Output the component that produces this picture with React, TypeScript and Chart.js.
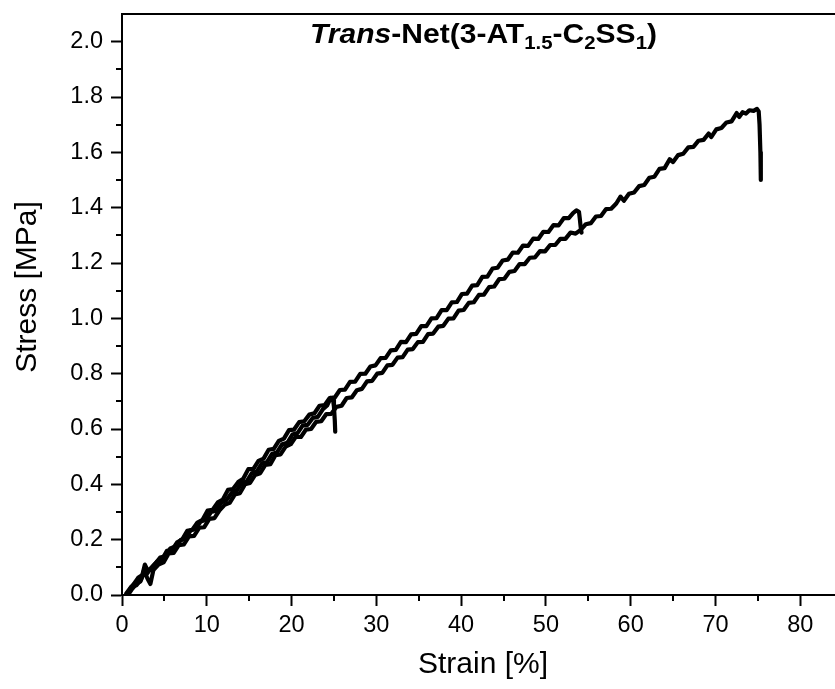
import React, { useEffect, useRef } from 'react';
import { Chart, registerables } from 'chart.js';

Chart.register(...registerables);

// ---- data ----
// first loading (to ~25 % strain)
const cycle1Strain = [0.6, 1.0, 1.4, 1.9, 2.4, 2.7, 3.0, 3.4, 3.9, 4.5, 5.1, 5.7, 6.3, 6.9, 7.5, 8.1, 8.7, 9.3, 9.9, 10.5, 11.1, 11.7, 12.3, 12.9, 13.5, 14.1, 14.7, 15.3, 15.9, 16.5, 17.1, 17.7, 18.3, 18.9, 19.5, 20.1, 20.7, 21.3, 21.9, 22.5, 23.1, 23.7, 24.2, 24.6, 24.9, 25.0, 25.1, 25.15];
const cycle1Stress = [0.0, 0.025, 0.04, 0.062, 0.072, 0.11, 0.09, 0.095, 0.112, 0.135, 0.14, 0.168, 0.175, 0.198, 0.207, 0.233, 0.24, 0.266, 0.272, 0.3, 0.305, 0.335, 0.342, 0.368, 0.376, 0.404, 0.41, 0.44, 0.446, 0.476, 0.48, 0.51, 0.516, 0.545, 0.55, 0.58, 0.585, 0.612, 0.615, 0.64, 0.644, 0.672, 0.685, 0.712, 0.705, 0.68, 0.63, 0.59];

// second loading (to ~54 % strain)
const cycle2Strain = [0.5, 1.1, 1.7, 2.3, 2.6, 2.9, 3.5, 4.1, 4.7, 5.3, 5.9, 6.5, 7.1, 7.7, 8.3, 8.9, 9.5, 10.1, 10.7, 11.3, 11.9, 12.5, 13.1, 13.7, 14.3, 14.9, 15.5, 16.1, 16.7, 17.3, 17.9, 18.5, 19.1, 19.7, 20.3, 20.9, 21.5, 22.1, 22.7, 23.3, 23.9, 24.5, 25.1, 25.7, 26.3, 26.9, 27.5, 28.1, 28.7, 29.3, 29.9, 30.5, 31.1, 31.7, 32.3, 32.9, 33.5, 34.1, 34.7, 35.3, 35.9, 36.5, 37.1, 37.7, 38.3, 38.9, 39.5, 40.1, 40.7, 41.3, 41.9, 42.5, 43.1, 43.7, 44.3, 44.9, 45.5, 46.1, 46.7, 47.3, 47.9, 48.5, 49.1, 49.7, 50.3, 50.9, 51.5, 52.1, 52.7, 53.2, 53.6, 53.9, 54.0, 54.1, 54.2];
const cycle2Stress = [0.005, 0.03, 0.035, 0.06, 0.09, 0.075, 0.1, 0.12, 0.127, 0.16, 0.162, 0.19, 0.2, 0.232, 0.236, 0.262, 0.272, 0.305, 0.308, 0.335, 0.345, 0.38, 0.383, 0.408, 0.42, 0.455, 0.456, 0.485, 0.493, 0.525, 0.528, 0.557, 0.565, 0.596, 0.598, 0.625, 0.628, 0.652, 0.657, 0.684, 0.686, 0.712, 0.714, 0.741, 0.742, 0.77, 0.771, 0.799, 0.8, 0.826, 0.83, 0.856, 0.857, 0.884, 0.886, 0.915, 0.914, 0.942, 0.944, 0.972, 0.972, 1.0, 1.001, 1.03, 1.03, 1.058, 1.059, 1.088, 1.089, 1.118, 1.12, 1.15, 1.151, 1.18, 1.183, 1.209, 1.212, 1.238, 1.237, 1.263, 1.262, 1.288, 1.287, 1.313, 1.312, 1.337, 1.336, 1.362, 1.362, 1.38, 1.39, 1.385, 1.36, 1.33, 1.31];

// final loading to break (~75 % strain)
const cycle3Strain = [0.7, 1.2, 1.7, 2.2, 2.6, 3.0, 3.35, 3.7, 4.3, 4.9, 5.5, 6.1, 6.7, 7.3, 7.9, 8.5, 9.1, 9.7, 10.3, 10.9, 11.5, 12.1, 12.7, 13.3, 13.9, 14.5, 15.1, 15.7, 16.3, 16.9, 17.5, 18.1, 18.7, 19.3, 19.9, 20.5, 21.1, 21.7, 22.3, 22.9, 23.5, 24.1, 24.7, 25.3, 25.9, 26.5, 27.1, 27.7, 28.3, 28.9, 29.5, 30.1, 30.7, 31.3, 31.9, 32.5, 33.1, 33.7, 34.3, 34.9, 35.5, 36.1, 36.7, 37.3, 37.9, 38.5, 39.1, 39.7, 40.3, 40.9, 41.5, 42.1, 42.7, 43.3, 43.9, 44.5, 45.1, 45.7, 46.3, 46.9, 47.5, 48.1, 48.7, 49.3, 49.9, 50.5, 51.1, 51.7, 52.3, 52.9, 53.5, 54.1, 54.7, 55.3, 55.9, 56.5, 57.1, 57.7, 58.3, 58.8, 59.2, 59.8, 60.4, 61.0, 61.6, 62.2, 62.8, 63.4, 64.0, 64.6, 65.0, 65.6, 66.2, 66.8, 67.4, 68.0, 68.6, 69.2, 69.5, 70.1, 70.7, 71.3, 71.9, 72.5, 72.8, 73.2, 73.6, 74.0, 74.5, 74.9, 75.1, 75.2, 75.3, 75.35];
const cycle3Stress = [0.0, 0.022, 0.04, 0.05, 0.085, 0.06, 0.04, 0.09, 0.11, 0.118, 0.15, 0.152, 0.18, 0.183, 0.212, 0.214, 0.243, 0.245, 0.275, 0.278, 0.306, 0.326, 0.333, 0.363, 0.368, 0.4, 0.405, 0.434, 0.44, 0.47, 0.473, 0.505, 0.508, 0.536, 0.545, 0.572, 0.571, 0.598, 0.6, 0.626, 0.628, 0.654, 0.655, 0.68, 0.684, 0.712, 0.714, 0.74, 0.745, 0.772, 0.774, 0.8, 0.803, 0.83, 0.832, 0.858, 0.86, 0.887, 0.889, 0.914, 0.915, 0.943, 0.945, 0.97, 0.973, 0.999, 1.0, 1.028, 1.03, 1.056, 1.058, 1.085, 1.086, 1.113, 1.115, 1.142, 1.143, 1.168, 1.171, 1.196, 1.196, 1.219, 1.22, 1.243, 1.242, 1.265, 1.265, 1.287, 1.287, 1.31, 1.306, 1.32, 1.34, 1.344, 1.368, 1.37, 1.395, 1.396, 1.415, 1.44, 1.425, 1.45, 1.455, 1.478, 1.482, 1.508, 1.512, 1.54, 1.543, 1.575, 1.565, 1.59, 1.595, 1.618, 1.62, 1.642, 1.645, 1.668, 1.655, 1.683, 1.688, 1.708, 1.712, 1.742, 1.728, 1.745, 1.74, 1.752, 1.75, 1.757, 1.748, 1.7, 1.6, 1.5];

const xMajorTicks = [0, 10, 20, 30, 40, 50, 60, 70, 80];
const xMinorTicks = [5, 15, 25, 35, 45, 55, 65, 75];
const yMajorTicks = [0, 0.2, 0.4, 0.6, 0.8, 1.0, 1.2, 1.4, 1.6, 1.8, 2.0];
const yMinorTicks = [0.1, 0.3, 0.5, 0.7, 0.9, 1.1, 1.3, 1.5, 1.7, 1.9];

const xTitle = 'Strain [%]';
const yTitle = 'Stress [MPa]';
const titleParts = [
  { text: 'Trans', italic: true, sub: false },
  { text: '-Net(3-AT', italic: false, sub: false },
  { text: '1.5', italic: false, sub: true },
  { text: '-C', italic: false, sub: false },
  { text: '2', italic: false, sub: true },
  { text: 'SS', italic: false, sub: false },
  { text: '1', italic: false, sub: true },
  { text: ')', italic: false, sub: false },
];

const FONT = 'Arial, "Liberation Sans", sans-serif';

function toPoints(xs: number[], ys: number[]) {
  return xs.map((x, i) => ({ x, y: ys[i] }));
}

const framePlugin = {
  id: 'frame',
  afterDraw(chart: any) {
    const { ctx, chartArea, scales } = chart;
    const { left, right, top, bottom } = chartArea;
    ctx.save();
    ctx.strokeStyle = '#000';
    ctx.lineWidth = 2;
    ctx.beginPath();
    ctx.moveTo(left - 1, top);
    ctx.lineTo(right, top);
    ctx.stroke();
    ctx.beginPath();
    xMinorTicks.forEach((v) => {
      const px = Math.round(scales.x.getPixelForValue(v));
      ctx.moveTo(px, bottom);
      ctx.lineTo(px, bottom + 6);
    });
    yMinorTicks.forEach((v) => {
      const py = Math.round(scales.y.getPixelForValue(v));
      ctx.moveTo(left, py);
      ctx.lineTo(left - 6, py);
    });
    ctx.stroke();

    // axis titles
    ctx.fillStyle = '#000';
    ctx.font = `30px ${FONT}`;
    ctx.textAlign = 'center';
    ctx.textBaseline = 'middle';
    ctx.fillText(xTitle, 483, 665);
    ctx.save();
    ctx.translate(28, 287);
    ctx.rotate(-Math.PI / 2);
    ctx.fillText(yTitle, 0, 0);
    ctx.restore();

    // title with italic part and subscripts
    const mainSize = 28;
    const subSize = 19;
    const fontFor = (p: any) =>
      `${p.italic ? 'italic ' : ''}bold ${p.sub ? subSize : mainSize}px ${FONT}`;
    let total = 0;
    titleParts.forEach((p) => {
      ctx.font = fontFor(p);
      total += ctx.measureText(p.text).width;
    });
    const targetWidth = 347;
    const sx = targetWidth / total;
    ctx.save();
    ctx.translate(483.5 - targetWidth / 2, 43);
    ctx.scale(sx, 1);
    ctx.textBaseline = 'alphabetic';
    ctx.textAlign = 'left';
    let x = 0;
    titleParts.forEach((p) => {
      ctx.font = fontFor(p);
      ctx.fillText(p.text, x, p.sub ? 6 : 0);
      x += ctx.measureText(p.text).width;
    });
    ctx.restore();
    ctx.restore();
  },
};

export default function App() {
  const ref = useRef<HTMLCanvasElement>(null);
  useEffect(() => {
    if (!ref.current) return;
    const lineStyle = {
      showLine: true,
      borderColor: '#000',
      borderWidth: 4.2,
      pointRadius: 0,
      tension: 0,
      borderJoinStyle: 'round' as const,
      borderCapStyle: 'round' as const,
      fill: false,
    };
    const chart = new Chart(ref.current, {
      type: 'scatter',
      data: {
        datasets: [
          { ...lineStyle, data: toPoints(cycle1Strain, cycle1Stress) },
          { ...lineStyle, data: toPoints(cycle2Strain, cycle2Stress) },
          { ...lineStyle, data: toPoints(cycle3Strain, cycle3Stress) },
        ],
      },
      options: {
        responsive: false,
        animation: false,
        layout: { padding: { top: 14, right: 0, left: 0, bottom: 0 } },
        plugins: {
          legend: { display: false },
          tooltip: { enabled: false },
          title: { display: false },
        },
        scales: {
          x: {
            type: 'linear',
            min: 0,
            max: 84.1,
            afterBuildTicks: (s: any) => {
              s.ticks = xMajorTicks.map((v) => ({ value: v }));
            },
            afterFit: (s: any) => {
              s.height = 94;
              s.paddingLeft = 0;
              s.paddingRight = 0;
            },
            grid: { drawOnChartArea: false, drawTicks: true, tickLength: 11, tickWidth: 2, tickColor: '#000' },
            border: { display: true, color: '#000', width: 2 },
            ticks: {
              font: { family: FONT, size: 23.5 },
              color: '#000',
              padding: 5,
              maxRotation: 0,
              autoSkip: false,
              callback: (v: any) => String(v),
            },
            title: { display: false },
          },
          y: {
            type: 'linear',
            min: 0,
            max: 2.1,
            afterBuildTicks: (s: any) => {
              s.ticks = yMajorTicks.map((v) => ({ value: v }));
            },
            afterFit: (s: any) => {
              s.width = 122;
              s.paddingTop = 0;
              s.paddingBottom = 0;
            },
            grid: { drawOnChartArea: false, drawTicks: true, tickLength: 11, tickWidth: 2, tickColor: '#000' },
            border: { display: true, color: '#000', width: 2 },
            ticks: {
              font: { family: FONT, size: 23.5 },
              color: '#000',
              padding: 8,
              autoSkip: false,
              callback: (v: any) => Number(v).toFixed(1),
            },
            title: { display: false },
          },
        },
      },
      plugins: [framePlugin],
    });
    return () => chart.destroy();
  }, []);
  return (
    <div style={{ position: 'fixed', left: 0, top: 0, width: 835, height: 689, background: '#fff' }}>
      <canvas ref={ref} width={835} height={689} style={{ display: 'block' }} />
    </div>
  );
}
